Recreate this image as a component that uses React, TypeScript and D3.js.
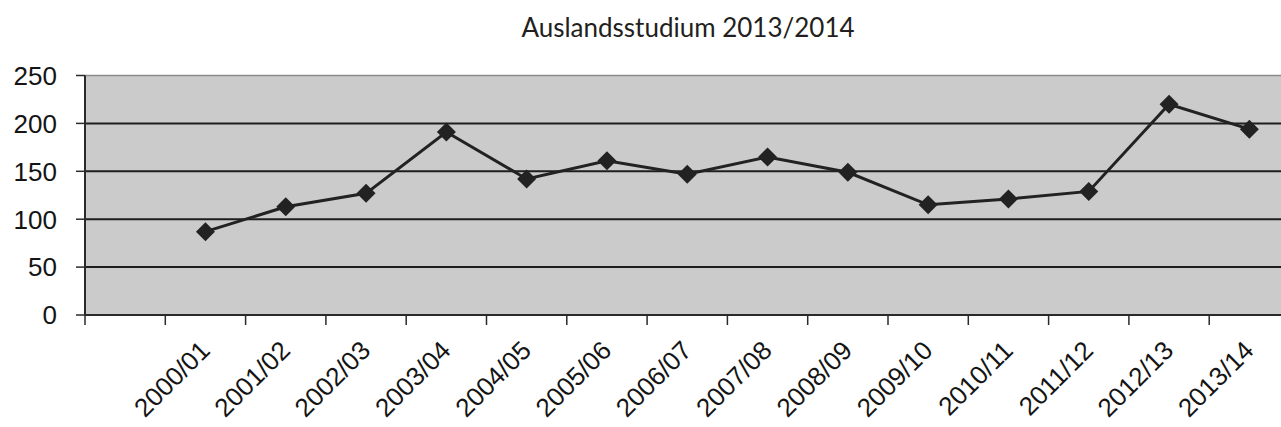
import React from 'react';
import * as d3 from 'd3';

const categories = [
  '2000/01', '2001/02', '2002/03', '2003/04', '2004/05', '2005/06', '2006/07',
  '2007/08', '2008/09', '2009/10', '2010/11', '2011/12', '2012/13', '2013/14',
];
const values = [87, 113, 127, 191, 142, 161, 147, 165, 149, 115, 121, 129, 220, 194];
const yTicks = [0, 50, 100, 150, 200, 250];
const title = 'Auslandsstudium 2013/2014';

const WIDTH = 1281;
const HEIGHT = 427;
const PLOT_LEFT = 85;
const PLOT_TOP = 75.5;
const PLOT_BOTTOM = 315;
const SLOT = 80.3;

const App: React.FC = () => {
  // one empty slot before the first year and one after the last, as in the source sheet
  const slots = d3.range(-1, categories.length + 1);
  const x = d3.scaleBand<number>()
    .domain(slots)
    .range([PLOT_LEFT, PLOT_LEFT + slots.length * SLOT])
    .padding(0);
  const y = d3.scaleLinear().domain([0, 250]).range([PLOT_BOTTOM, PLOT_TOP]);

  const cx = (i: number) => (x(i) ?? 0) + x.bandwidth() / 2;
  const plotRight = x.range()[1];

  const line = d3.line<number>()
    .x((_, i) => cx(i))
    .y(d => y(d));

  const diamond = d3.symbol().type(d3.symbolDiamond2).size(230)();

  const tickXs = slots.map(i => x(i) ?? 0).concat([plotRight]);

  return (
    <svg
      width={WIDTH}
      height={HEIGHT}
      style={{ position: 'fixed', left: 0, top: 0, background: '#ffffff' }}
    >
      <text
        x={688}
        y={37}
        textAnchor="middle"
        fontFamily="Lato, 'Noto Sans', sans-serif"
        fontSize={26}
        fill="#231f20"
      >
        {title}
      </text>

      <rect
        x={PLOT_LEFT}
        y={PLOT_TOP}
        width={plotRight - PLOT_LEFT}
        height={PLOT_BOTTOM - PLOT_TOP}
        fill="#cbcbcb"
      />
      <line x1={PLOT_LEFT} x2={plotRight} y1={PLOT_TOP} y2={PLOT_TOP} stroke="#8a8a8a" strokeWidth={1.5} />

      {yTicks.filter(t => t > 0 && t < 250).map(t => (
        <line key={t} x1={PLOT_LEFT} x2={plotRight} y1={y(t)} y2={y(t)} stroke="#1e1e1e" strokeWidth={2} />
      ))}

      {/* y axis */}
      <line x1={PLOT_LEFT} x2={PLOT_LEFT} y1={PLOT_TOP} y2={PLOT_BOTTOM} stroke="#2a2a2a" strokeWidth={2} />
      {yTicks.map(t => (
        <g key={t}>
          <line x1={PLOT_LEFT - 9} x2={PLOT_LEFT} y1={y(t)} y2={y(t)} stroke="#2a2a2a" strokeWidth={1.5} />
          <text
            x={57}
            y={y(t)}
            dy="0.36em"
            textAnchor="end"
            fontFamily="'Liberation Sans', Arial, sans-serif"
            fontSize={26}
            fill="#141414"
          >
            {t}
          </text>
        </g>
      ))}

      {/* x axis */}
      <line x1={PLOT_LEFT} x2={plotRight} y1={PLOT_BOTTOM} y2={PLOT_BOTTOM} stroke="#2a2a2a" strokeWidth={2} />
      {tickXs.map((tx, i) => (
        <line key={i} x1={tx} x2={tx} y1={PLOT_BOTTOM} y2={PLOT_BOTTOM + 10} stroke="#2a2a2a" strokeWidth={1.5} />
      ))}
      {categories.map((c, i) => (
        <text
          key={c}
          transform={`translate(${cx(i) + 6},${352}) rotate(-45)`}
          textAnchor="end"
          fontFamily="'Liberation Sans', Arial, sans-serif"
          fontSize={26}
          fill="#141414"
        >
          {c}
        </text>
      ))}

      <path d={line(values) ?? ''} fill="none" stroke="#222222" strokeWidth={3} />
      {values.map((v, i) => (
        <path key={i} d={diamond ?? ''} transform={`translate(${cx(i)},${y(v)})`} fill="#222222" />
      ))}
    </svg>
  );
};

export default App;
